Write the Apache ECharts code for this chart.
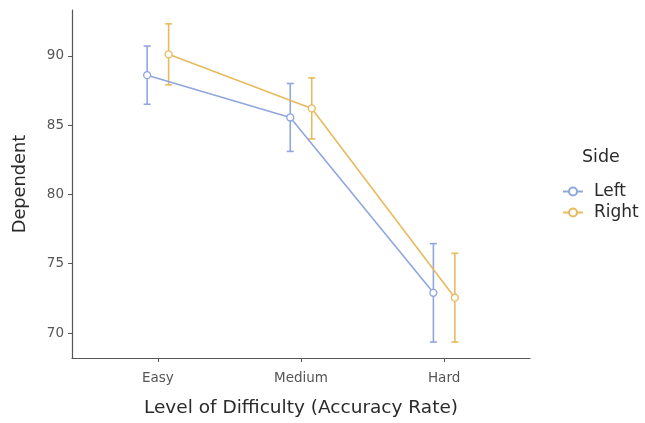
<!DOCTYPE html>
<html><head><meta charset="utf-8">
<script src="https://cdn.jsdelivr.net/npm/echarts@6/dist/echarts.min.js"></script>
<style>html,body{margin:0;padding:0;background:#fff}#c{width:645px;height:423px}</style>
</head><body><div id="c"></div>
<script>
const categories = ['Easy', 'Medium', 'Hard'];
const leftMean = [88.6, 85.55, 72.9];
const leftErr = [2.1, 2.45, 3.55];
const rightMean = [90.1, 86.2, 72.55];
const rightErr = [2.2, 2.2, 3.2];
const yTicks = [70, 75, 80, 85, 90];
const dodge = 0.075;

const blue = '#8fa6df';
const orange = '#e8ba5e';
const FONT = 'DejaVu Sans';

function pts(mean, off) { return mean.map((v, i) => [i + 1 + off, v]); }
function errs(mean, err, off) { return mean.map((v, i) => [i + 1 + off, v - err[i], v + err[i]]); }

function errRender(color) {
  return function (params, api) {
    const x = api.value(0);
    const lo = api.coord([x, api.value(1)]);
    const hi = api.coord([x, api.value(2)]);
    const w = 3.5;
    const st = { stroke: color, lineWidth: 1.6 };
    return { type: 'group', children: [
      { type: 'line', shape: { x1: lo[0], y1: lo[1], x2: hi[0], y2: hi[1] }, style: st },
      { type: 'line', shape: { x1: lo[0] - w, y1: lo[1], x2: lo[0] + w, y2: lo[1] }, style: st },
      { type: 'line', shape: { x1: hi[0] - w, y1: hi[1], x2: hi[0] + w, y2: hi[1] }, style: st }
    ]};
  };
}

const chart = echarts.init(document.getElementById('c'));
chart.setOption({
  animation: false,
  grid: { left: 72, right: 115, top: 10, bottom: 62 },
  xAxis: {
    type: 'value', min: 0.4, max: 3.6,
    name: 'Level of Difficulty (Accuracy Rate)', nameLocation: 'middle', nameGap: 41,
    nameTextStyle: { fontSize: 18.5, color: '#2a2a2a', fontFamily: FONT },
    axisLine: { lineStyle: { color: '#555', width: 1.2 } },
    axisTick: { show: true, length: 4, lineStyle: { color: '#555' }, customValues: [1, 2, 3] },
    axisLabel: { customValues: [1, 2, 3], formatter: v => categories[Math.round(v) - 1], color: '#555', fontSize: 13.5, margin: 13, fontFamily: FONT },
    splitLine: { show: false }
  },
  yAxis: {
    type: 'value', min: 68.2, max: 93.3,
    name: 'Dependent', nameLocation: 'middle', nameGap: 43, nameRotate: 90,
    nameTextStyle: { fontSize: 17.8, color: '#2a2a2a', fontFamily: FONT },
    axisLine: { show: true, lineStyle: { color: '#555', width: 1.2 } },
    axisTick: { show: true, length: 4, lineStyle: { color: '#555' }, customValues: yTicks },
    axisLabel: { customValues: yTicks, color: '#555', fontSize: 13.5, margin: 8, fontFamily: FONT },
    splitLine: { show: false }
  },
  legend: {
    left: 557, top: 178, orient: 'vertical', itemGap: 4, itemWidth: 20, itemHeight: 10,
    data: ['Left', 'Right'],
    textStyle: { fontSize: 17, color: '#2a2a2a', fontFamily: FONT, padding: [0, 0, 0, 6] }
  },
  graphic: [{ type: 'text', left: 582, top: 148, style: { text: 'Side', fontSize: 17.5, fill: '#2a2a2a', fontFamily: FONT } }],
  series: [
    { type: 'custom', renderItem: errRender(blue), data: errs(leftMean, leftErr, -dodge), z: 1, silent: true },
    { type: 'custom', renderItem: errRender(orange), data: errs(rightMean, rightErr, dodge), z: 1, silent: true },
    { name: 'Left', type: 'line', data: pts(leftMean, -dodge), symbol: 'circle', symbolSize: 7,
      lineStyle: { color: blue, width: 1.6 }, itemStyle: { color: '#fff', borderColor: blue, borderWidth: 1.3 }, z: 3 },
    { name: 'Right', type: 'line', data: pts(rightMean, dodge), symbol: 'circle', symbolSize: 7,
      lineStyle: { color: orange, width: 1.6 }, itemStyle: { color: '#fff', borderColor: orange, borderWidth: 1.3 }, z: 3 }
  ]
});
</script></body></html>
